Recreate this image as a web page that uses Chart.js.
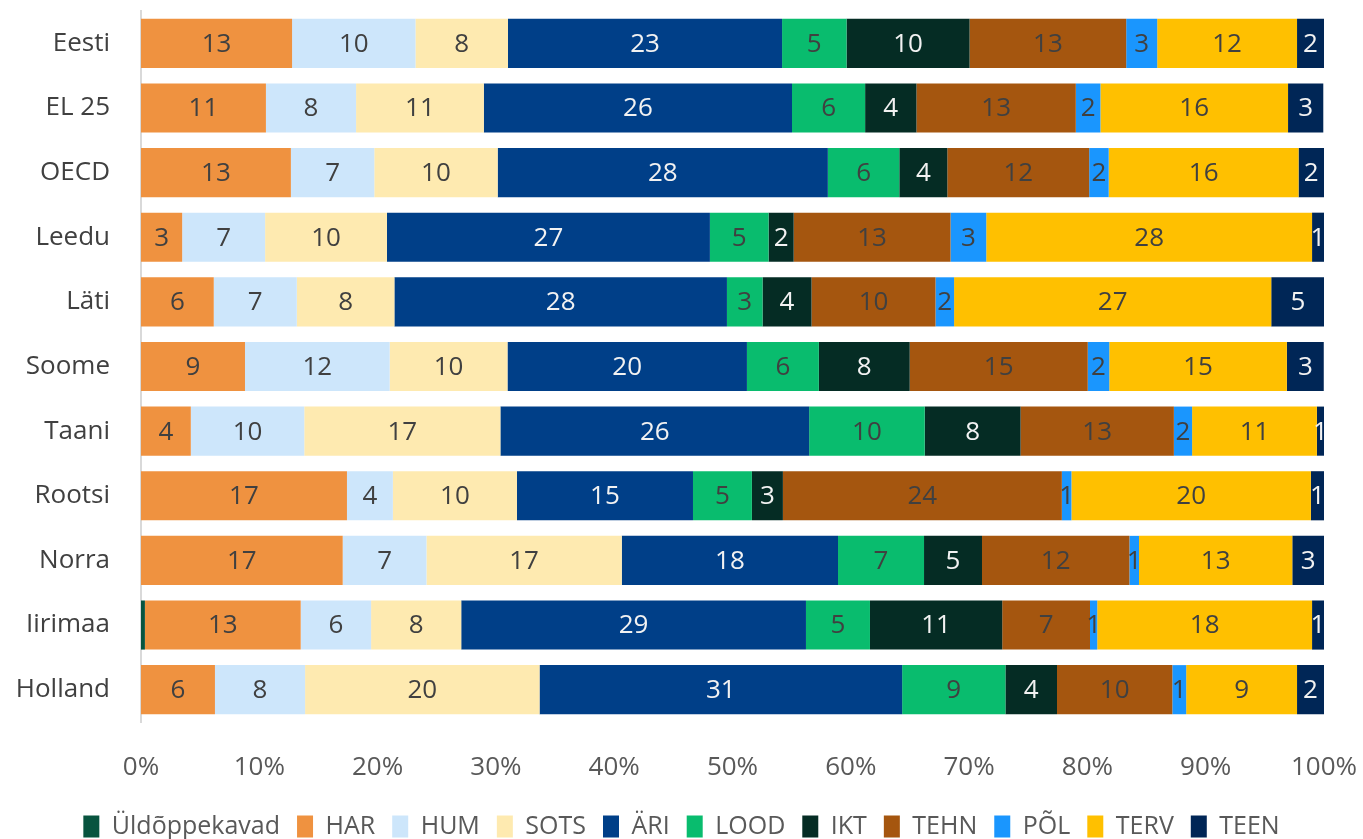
<!DOCTYPE html>
<html lang="et">
<head>
<meta charset="UTF-8" />
<title>Õppekavad riigiti</title>
<script src="https://cdn.jsdelivr.net/npm/chart.js"></script>
<style>
  html, body { margin: 0; padding: 0; background: #fff; overflow: hidden; }
  .kast { position: relative; width: 1363px; height: 849px; }
</style>
</head>
<body>
<div class="kast">
  <canvas id="graafik"></canvas>
</div>
<script>
  // riigid (ülevalt alla)
  const riigid = ["Eesti", "EL 25", "OECD", "Leedu", "Läti", "Soome", "Taani", "Rootsi", "Norra", "Iirimaa", "Holland"];

  // osakaalud, % (loetud pildilt)
  const uld  = [0, 0, 0, 0, 0, 0, 0, 0, 0, 0.33, 0];
  const har  = [12.77, 10.56, 12.67, 3.48, 6.15, 8.79, 4.21, 17.41, 17.05, 13.17, 6.25];
  const hum  = [10.43, 7.62, 7.05, 7.01, 7.02, 12.23, 9.59, 3.88, 7.08, 5.95, 7.62];
  const sots = [7.82, 10.80, 10.43, 10.30, 8.25, 9.96, 16.58, 10.49, 16.51, 7.62, 19.82];
  const ari  = [23.17, 26.05, 27.91, 27.30, 28.11, 20.24, 26.10, 14.88, 18.28, 29.14, 30.65];
  const lood = [5.45, 6.18, 6.04, 4.96, 3.01, 6.08, 9.77, 4.98, 7.27, 5.41, 8.73];
  const ikt  = [10.40, 4.34, 4.06, 2.12, 4.14, 7.68, 8.10, 2.62, 4.90, 11.18, 4.36];
  const tehn = [13.24, 13.47, 11.99, 13.26, 10.48, 15.05, 12.96, 23.58, 12.46, 7.42, 9.75];
  const pol  = [2.62, 2.08, 1.65, 3.02, 1.57, 1.82, 1.54, 0.81, 0.81, 0.61, 1.17];
  const terv = [11.82, 15.86, 16.05, 27.54, 26.81, 15.01, 10.55, 20.24, 12.96, 18.16, 9.37];
  const teen = [2.28, 2.98, 2.15, 1.01, 4.52, 3.12, 0.60, 1.11, 2.68, 1.01, 2.28];

  const xTikid = [0, 10, 20, 30, 40, 50, 60, 70, 80, 90, 100];

  const font = "'Open Sans', 'DejaVu Sans', sans-serif";
  const tume = "#404040";
  const hele = "#f2f2f2";

  function seeria(nimi, andmed, varv, teksti) {
    return {
      label: nimi,
      data: andmed,
      backgroundColor: varv,
      borderWidth: 0,
      tekstVarv: teksti,
      barPercentage: 0.76,
      categoryPercentage: 1,
    };
  }

  const andmed = {
    labels: riigid,
    datasets: [
      seeria("Üldõppekavad", uld, "#08543f", hele),
      seeria("HAR", har, "#ef9240", tume),
      seeria("HUM", hum, "#cde6fb", tume),
      seeria("SOTS", sots, "#feeab0", tume),
      seeria("ÄRI", ari, "#003f88", hele),
      seeria("LOOD", lood, "#09bc6e", tume),
      seeria("IKT", ikt, "#052c24", hele),
      seeria("TEHN", tehn, "#a5560f", tume),
      seeria("PÕL", pol, "#1a96fe", tume),
      seeria("TERV", terv, "#ffc000", tume),
      seeria("TEEN", teen, "#002656", hele),
    ],
  };

  // numbrid lõikude keskele
  const sildid = {
    id: "sildid",
    afterDatasetsDraw(chart) {
      const ctx = chart.ctx;
      ctx.save();
      ctx.font = "26px " + font;
      ctx.textAlign = "center";
      ctx.textBaseline = "middle";
      chart.data.datasets.forEach((ds, i) => {
        const meta = chart.getDatasetMeta(i);
        meta.data.forEach((bar, j) => {
          const v = Math.round(ds.data[j]);
          if (v < 1) return;
          const p = bar.getProps(["x", "y", "base"], true);
          ctx.fillStyle = ds.tekstVarv;
          ctx.fillText(String(v), (p.x + p.base) / 2, p.y + 1);
        });
      });
      ctx.restore();
    },
  };

  // legend keset kogu laiust, mitte ainult graafiku ala
  const legendiNihe = {
    id: "legendiNihe",
    afterLayout(chart) {
      if (chart.legend) chart.legend.left = 39;
    },
  };

  const config = {
    type: "bar",
    data: andmed,
    options: {
      indexAxis: "y",
      responsive: true,
      maintainAspectRatio: false,
      animation: false,
      layout: {
        padding: { top: 11, right: 39, left: 0, bottom: 0 },
      },
      scales: {
        x: {
          stacked: true,
          min: 0,
          max: 100,
          grid: { display: false, drawTicks: true, tickLength: 30 },
          border: { display: false },
          afterBuildTicks: (scale) => {
            scale.ticks = xTikid.map((v) => ({ value: v }));
          },
          afterFit: (scale) => {
            scale.height = 75;
          },
          ticks: {
            color: "#595959",
            font: { family: font, size: 26 },
            padding: 0,
            maxRotation: 0,
            callback: (v) => v + "%",
          },
        },
        y: {
          stacked: true,
          grid: { display: false, drawTicks: true, tickLength: 31 },
          border: { display: true, color: "#d9d9d9", width: 2 },
          afterFit: (scale) => {
            scale.width = 141;
          },
          ticks: {
            color: "#404040",
            font: { family: font, size: 26, lineHeight: 0.8 },
            padding: 0,
          },
        },
      },
      plugins: {
        tooltip: { enabled: false },
        legend: {
          display: true,
          position: "bottom",
          labels: {
            color: "#595959",
            font: { family: font, size: 25 },
            boxWidth: 16,
            boxHeight: 22,
            padding: 17,
          },
        },
      },
    },
    plugins: [sildid, legendiNihe],
  };

  new Chart(document.getElementById("graafik").getContext("2d"), config);
</script>
</body>
</html>
